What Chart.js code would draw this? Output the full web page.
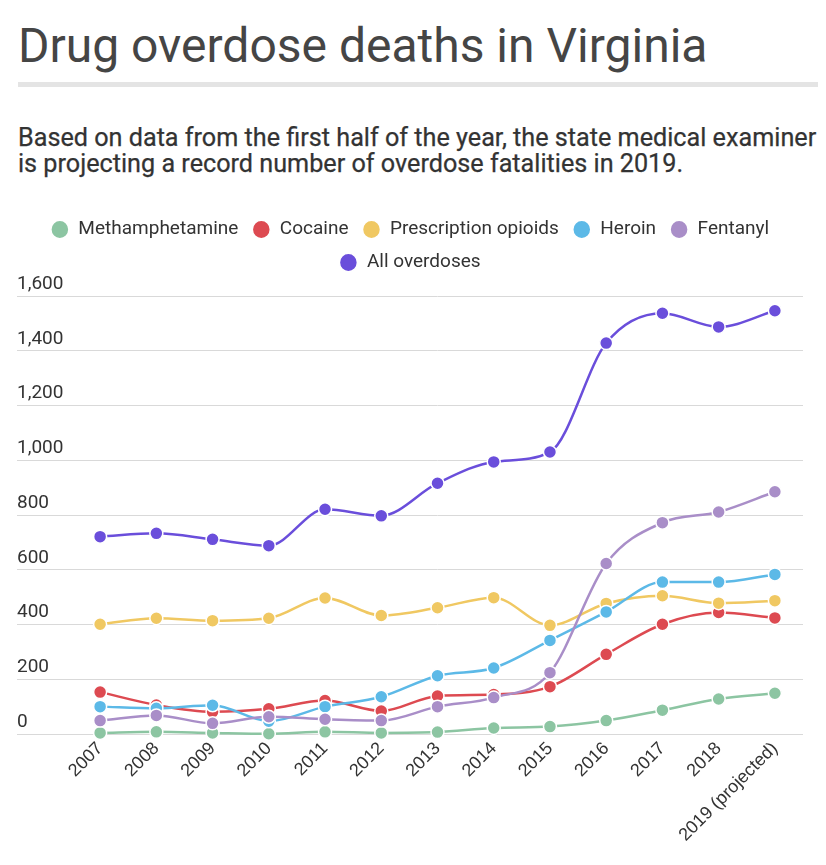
<!DOCTYPE html>
<html>
<head>
<meta charset="utf-8">
<script src="https://cdn.jsdelivr.net/npm/chart.js@4/dist/chart.umd.min.js"></script>
<style>
  html, body { margin: 0; padding: 0; background: #fff; }
  body { width: 826px; height: 865px; position: relative; overflow: hidden; font-family: Roboto, "Noto Sans", sans-serif; }
  #title { position: absolute; left: 18px; top: 22px; font-size: 48px; line-height: 48px; font-weight: 400; color: #454545; white-space: nowrap; margin: 0; }
  #rule { position: absolute; left: 18px; top: 82px; width: 800px; height: 5px; background: #e4e4e4; }
  #subtitle { position: absolute; left: 18px; top: 125px; font-size: 25.2px; line-height: 26px; font-weight: 400; color: #333; white-space: nowrap; margin: 0; -webkit-text-stroke: 0.25px #333; }
  #wrap { position: absolute; left: 0; top: 200px; width: 826px; height: 665px; }
</style>
</head>
<body>
<h1 id="title">Drug overdose deaths in Virginia</h1>
<div id="rule"></div>
<p id="subtitle">Based on data from the first half of the year, the state medical examiner<br>is projecting a record number of overdose fatalities in 2019.</p>
<div id="wrap"><canvas id="c"></canvas></div>
<script>
const years = ["2007","2008","2009","2010","2011","2012","2013","2014","2015","2016","2017","2018","2019 (projected)"];
const methamphetamine = [4, 8, 4, 1, 8, 4, 7, 22, 27, 49, 87, 128, 149];
const cocaine = [153, 106, 81, 92, 122, 84, 139, 144, 173, 291, 401, 444, 424];
const prescriptionOpioids = [401, 423, 414, 423, 497, 433, 461, 498, 397, 477, 505, 478, 487];
const heroin = [100, 94, 105, 47, 100, 136, 213, 241, 342, 446, 555, 555, 583];
const fentanyl = [49, 68, 39, 63, 54, 49, 100, 133, 224, 623, 772, 811, 885];
const allOverdoses = [721, 733, 711, 688, 821, 797, 916, 994, 1030, 1428, 1537, 1487, 1546];
const yTicks = [0, 200, 400, 600, 800, 1000, 1200, 1400, 1600];

const seriesNames = ["Methamphetamine", "Cocaine", "Prescription opioids", "Heroin", "Fentanyl", "All overdoses"];
const seriesData = [methamphetamine, cocaine, prescriptionOpioids, heroin, fentanyl, allOverdoses];
const seriesColors = ["#8cc5a2", "#dd4a51", "#f0c862", "#5cb9e7", "#a98ec8", "#6a4edb"];

const datasets = seriesNames.map((name, i) => ({
  label: name,
  data: seriesData[i],
  borderColor: seriesColors[i],
  backgroundColor: seriesColors[i],
  pointBackgroundColor: seriesColors[i],
  pointBorderColor: "#ffffff",
  pointBorderWidth: 1.5,
  pointRadius: 6.5,
  pointHoverRadius: 6.5,
  borderWidth: 2.5,
  cubicInterpolationMode: "monotone",
  fill: false,
  clip: false,
  order: seriesNames.length - i
}));

const legendHeightPlugin = {
  id: "legendHeight",
  afterInit(chart) {
    const lg = chart.legend;
    if (!lg) return;
    const orig = lg.fit.bind(lg);
    lg.fit = function () {
      orig();
      this.height = 90;
    };
  }
};

Chart.defaults.font.family = "Roboto, 'Noto Sans', sans-serif";
Chart.defaults.color = "#333";

new Chart(document.getElementById("c"), {
  type: "line",
  data: { labels: years, datasets },
  plugins: [legendHeightPlugin],
  options: {
    responsive: true,
    maintainAspectRatio: false,
    animation: false,
    layout: { padding: { left: 17, right: 23, top: 6, bottom: 0 } },
    plugins: {
      tooltip: { enabled: false },
      legend: {
        display: true,
        position: "top",
        align: "center",
        labels: {
          usePointStyle: true,
          pointStyle: "circle",
          pointStyleWidth: 18,
          boxHeight: 13,
          padding: 14,
          color: "#333",
          font: { size: 19, family: "Roboto, sans-serif" },
          sort: (a, b) => a.datasetIndex - b.datasetIndex
        }
      }
    },
    scales: {
      x: {
        type: "category",
        offset: true,
        grid: { display: false, drawTicks: false },
        border: { display: false },
        ticks: {
          autoSkip: false,
          minRotation: 45,
          maxRotation: 45,
          padding: 4,
          color: "#333",
          font: { size: 18, family: "'Liberation Sans', Arial, sans-serif" }
        },
        afterFit(scale) { scale.height = 131; }
      },
      y: {
        min: 0,
        max: 1600,
        afterBuildTicks(scale) { scale.ticks = yTicks.map(v => ({ value: v })); },
        grid: { color: "#d9d9d9", lineWidth: 1, drawTicks: true, tickLength: 55, tickColor: "#d9d9d9" },
        border: { display: false },
        ticks: {
          crossAlign: "far",
          labelOffset: -12,
          padding: 0,
          color: "#333",
          font: { size: 19, family: "Roboto, sans-serif" }
        },
        afterFit(scale) { scale.width = 55; }
      }
    }
  }
});
</script>
</body>
</html>
